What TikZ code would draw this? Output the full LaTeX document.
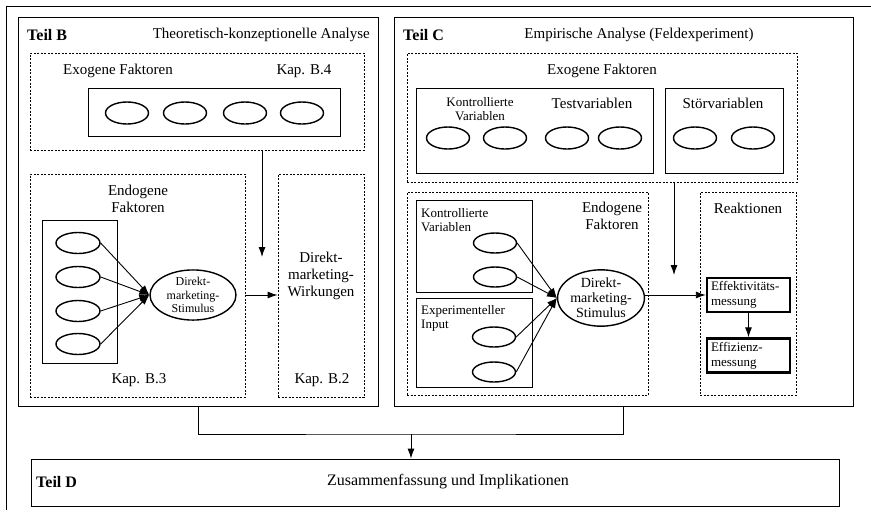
\documentclass[tikz,border=0pt]{standalone}
\usepackage{fontspec}
\setmainfont{Liberation Serif}
\usetikzlibrary{arrows.meta,shapes.geometric}

\begin{document}
\begin{tikzpicture}[x=1pt,y=-1pt,
  frame/.style={draw, line width=0.9pt, inner sep=0pt},
  dotframe/.style={draw, line width=0.9pt, dash pattern=on 2pt off 1.5pt, inner sep=0pt},
  boldframe/.style={draw, line width=2.4pt, inner sep=0pt, minimum width=83, minimum height=34,
    text width=75, align=left, font=\fontsize{13}{15}\selectfont},
  oval/.style={draw, ellipse, line width=1.4pt, inner sep=0pt, minimum width=\ovalw, minimum height=\ovalh},
  lbl/.style={inner sep=0pt, font=\fontsize{15}{16.5}\selectfont},
  small/.style={inner sep=0pt, font=\fontsize{13}{14.5}\selectfont},
  teil/.style={inner sep=0pt, font=\bfseries\fontsize{16}{18}\selectfont},
  arr/.style={-{Latex[length=10pt,width=7pt]}, line width=0.9pt}]
\def\ovalw{43}
\def\ovalh{22}
\useasboundingbox (0,0) rectangle (871,515);

\draw[line width=0.9pt] (6,510) -- (6,6) -- (871,6);

% Teil B
\node[frame, minimum width=360, minimum height=389] (teilB) at (198,211.5) {};
\node[teil, anchor=west] (teilBlbl) at (27,35) {Teil B};
\node[lbl, anchor=east] (teilBtitle) at (370,35) {Theoretisch-konzeptionelle Analyse};

\node[dotframe, minimum width=334, minimum height=97] (exoB) at (197,101.5) {};
\node[lbl] (exoBlbl) at (118,71) {Exogene Faktoren};
\node[lbl] (kapBiv) at (304,71) {Kap. B.4};
\node[frame, minimum width=252, minimum height=48] (exoBin) at (214,112) {};
\node[oval] (exoBa) at (127,113) {};
\node[oval] (exoBb) at (185,113) {};
\node[oval] (exoBc) at (245,113) {};
\node[oval] (exoBd) at (302,113) {};

\node[dotframe, minimum width=215, minimum height=223] (endoB) at (137.5,285.5) {};
\node[lbl, align=center] (endoBlbl) at (138,199) {Endogene\\Faktoren};
\node[frame, minimum width=75, minimum height=143] (endoBin) at (79.5,291.5) {};
\node[oval, minimum width=44, minimum height=21] (endoBa) at (78,243) {};
\node[oval, minimum width=44, minimum height=21] (endoBb) at (78,277) {};
\node[oval, minimum width=44, minimum height=21] (endoBc) at (78,311) {};
\node[oval, minimum width=44, minimum height=21] (endoBd) at (78,344) {};
\node[oval, align=center, minimum width=86, minimum height=50,
  font=\fontsize{12}{13.5}\selectfont] (stimB) at (193,295) {Direkt-\\marketing-\\Stimulus};
\node[lbl] (kapBiii) at (139,380) {Kap. B.3};

\node[dotframe, minimum width=86, minimum height=223] (wirkB) at (321,285.5) {};
\node[lbl, align=center, font=\fontsize{15}{17}\selectfont] (wirkBlbl) at (321,276) {Direkt-\\marketing-\\Wirkungen};
\node[lbl] (kapBii) at (322,380) {Kap. B.2};

\coordinate (inB) at (262,257);
\draw[arr] (exoB.south -| inB) -- (inB);
\draw[arr] (stimB -| endoB.east) -- (stimB -| wirkB.west);
\draw[arr] (endoBa.east) -- (stimB.west);
\draw[arr] (endoBb.east) -- (stimB.west);
\draw[arr] (endoBc.east) -- (stimB.west);
\draw[arr] (endoBd.east) -- (stimB.west);

% Teil C
\node[frame, minimum width=459, minimum height=389] (teilC) at (623.5,211.5) {};
\node[teil, anchor=west] (teilClbl) at (403,35) {Teil C};
\node[lbl] (teilCtitle) at (639,35) {Empirische Analyse (Feldexperiment)};

\node[dotframe, minimum width=390, minimum height=129] (exoC) at (602,117.5) {};
\node[lbl] (exoClbl) at (602,71) {Exogene Faktoren};
\node[frame, minimum width=237, minimum height=85] (testC) at (534.5,130.5) {};
\node[small, align=center] (kontClbl) at (480,109) {Kontrollierte\\Variablen};
\node[lbl] (testClbl) at (592,103) {Testvariablen};
\node[oval] (testCa) at (448,138) {};
\node[oval] (testCb) at (505,138) {};
\node[oval] (testCc) at (567,138) {};
\node[oval] (testCd) at (620,138) {};
\node[frame, minimum width=118, minimum height=85] (stoerC) at (724,130.5) {};
\node[lbl] (stoerClbl) at (723,103) {Störvariablen};
\node[oval] (stoerCa) at (695,138) {};
\node[oval] (stoerCb) at (753,138) {};

\node[dotframe, minimum width=241, minimum height=203] (endoC) at (527.5,293.5) {};
\node[lbl, align=center] (endoClbl) at (612,216) {Endogene\\Faktoren};
\node[frame, minimum width=116, minimum height=92] (kontC) at (474,246) {};
\node[small, align=left, anchor=north west] (kontCtxt) at (421,208) {Kontrollierte\\Variablen};
\node[oval, minimum height=20] (kontCa) at (495,243) {};
\node[oval, minimum height=20] (kontCb) at (495,277) {};
\node[frame, minimum width=116, minimum height=89] (expC) at (474,342.5) {};
\node[small, align=left, anchor=north west] (expCtxt) at (421,305) {Experimenteller\\Input};
\node[oval, minimum height=20] (expCa) at (494,337) {};
\node[oval, minimum height=20] (expCb) at (494,372) {};
\node[oval, align=center, minimum width=84, minimum height=54,
  font=\fontsize{14}{15}\selectfont] (stimC) at (601,298) {Direkt-\\marketing-\\Stimulus};

\node[dotframe, minimum width=96, minimum height=203] (reakC) at (748,293.5) {};
\node[lbl] (reakClbl) at (748,208) {Reaktionen};
\node[boldframe] (effC) at (748.5,295) {Effektivitäts-\\messung};
\node[boldframe] (effzC) at (748.5,355.5) {Effizienz-\\messung};

\coordinate (inC) at (674,275);
\draw[arr] (exoC.south -| inC) -- (inC);
\draw[arr] (stimC.east |- effC.west) -- (effC.west);
\draw[arr] (effC) -- (effzC);
\draw[arr] (kontCa.east) -- (stimC.west);
\draw[arr] (kontCb.east) -- (stimC.west);
\draw[arr] (expCa.east) -- (stimC.west);
\draw[arr] (expCb.east) -- (stimC.west);

% Teil D
\node[frame, minimum width=808, minimum height=47] (teilD) at (435,482.5) {};
\node[teil, anchor=west] (teilDlbl) at (36,482) {Teil D};
\node[lbl, font=\fontsize{16}{18}\selectfont] (teilDtitle) at (448,482) {Zusammenfassung und Implikationen};

\coordinate (join) at (411,434);
\draw[line width=0.9pt] (teilB.south) |- (join) -| (teilC.south);
\draw[arr] (join) -- (join |- teilD.north);
\end{tikzpicture}
\end{document}
